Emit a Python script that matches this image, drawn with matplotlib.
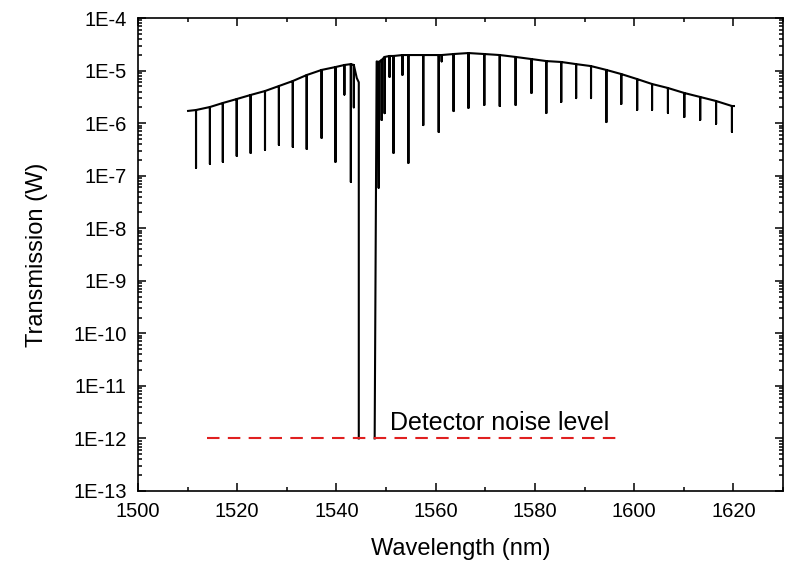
import numpy as np
import matplotlib
matplotlib.use("Agg")
import matplotlib.pyplot as plt
from matplotlib.ticker import FuncFormatter, LogLocator, MultipleLocator

plt.rcParams['font.family'] = ['Liberation Sans', 'DejaVu Sans']

# ends of the spectrum and the deep notch (nm, W); nan splits the notch walls
env_wl = [1510.1, 1544.1, 1544.5, 1544.5, 1546.0, 1547.7, 1548.1, 1620.1]
env_w = [1.71e-6, 7.2e-6, 6.0e-6, 1.0e-12, np.nan, 1.0e-12, 1.5e-5, 2.12e-6]

# absorption lines: position, level just above the line, level at the line bottom
dip_wl = [1511.7, 1514.5, 1517.1, 1519.9, 1522.7, 1525.6, 1528.4, 1531.2, 1534.0,
          1537.0, 1539.8, 1541.6, 1542.9, 1543.5,
          1548.5, 1549.1, 1549.7, 1550.7, 1551.5, 1553.3, 1554.5, 1557.5, 1560.6,
          1561.2, 1563.6, 1566.6, 1569.8, 1572.9, 1576.1, 1579.3, 1582.3, 1585.3,
          1588.3, 1591.3, 1594.4, 1597.4, 1600.6, 1603.6, 1606.8, 1610.1, 1613.3,
          1616.5, 1619.7]
dip_top = [1.78e-6, 2.03e-6, 2.42e-6, 2.88e-6, 3.44e-6, 4.09e-6, 5.09e-6, 6.34e-6, 8.24e-6,
           1.03e-5, 1.17e-5, 1.28e-5, 1.33e-5, 1.28e-5,
           1.46e-5, 1.59e-5, 1.82e-5, 1.90e-5, 1.90e-5, 1.98e-5, 1.98e-5, 1.98e-5, 1.98e-5,
           1.98e-5, 2.07e-5, 2.16e-5, 2.07e-5, 1.98e-5, 1.82e-5, 1.66e-5, 1.52e-5, 1.46e-5,
           1.33e-5, 1.22e-5, 1.03e-5, 8.6e-6, 6.9e-6, 5.56e-6, 4.67e-6, 3.75e-6, 3.15e-6,
           2.64e-6, 2.12e-6]
dip_bot = [1.41e-7, 1.67e-7, 1.83e-7, 2.38e-7, 2.71e-7, 3.09e-7, 3.85e-7, 3.53e-7, 3.23e-7,
           5.24e-7, 1.83e-7, 3.5e-6, 7.6e-8, 2.0e-6,
           5.9e-8, 1.15e-6, 1.55e-6, 7.6e-6, 2.71e-7, 8.3e-6, 1.75e-7, 9.2e-7, 6.8e-7,
           1.5e-5, 1.7e-6, 1.95e-6, 2.22e-6, 2.12e-6, 2.22e-6, 3.75e-6, 1.56e-6, 2.53e-6,
           3.0e-6, 3.0e-6, 1.05e-6, 2.32e-6, 1.78e-6, 1.78e-6, 1.56e-6, 1.31e-6, 1.15e-6,
           9.7e-7, 6.8e-7]

noise_wl = [1513.9, 1597.0]
noise_w = [1e-12, 1e-12]

# merge envelope points and line triplets into one trace
pts = [(w, 0, v) for w, v in zip(env_wl, env_w)]
for w, t, b in zip(dip_wl, dip_top, dip_bot):
    pts += [(w, 1, t), (w, 2, b), (w, 3, t)]
pts.sort(key=lambda p: (p[0], p[1]))
x = [p[0] for p in pts]
y = [p[2] for p in pts]

fig = plt.figure(figsize=(7.87, 5.65), dpi=100)
ax = fig.add_axes([0.1753, 0.131, 0.8197, 0.837])

ax.plot(x, y, color='black', lw=1.5)
ax.plot(noise_wl, noise_w, color='#e02020', lw=1.5, dashes=(6, 4))
ax.text(1550.7, 2.0e-12, "Detector noise level", fontsize=18, va='center', ha='left')

ax.set_yscale('log')
ax.set_xlim(1500, 1630)
ax.set_ylim(1e-13, 1e-4)
ax.xaxis.set_major_locator(MultipleLocator(20))
ax.xaxis.set_minor_locator(MultipleLocator(10))
ax.yaxis.set_major_locator(LogLocator(base=10, numticks=20))
ax.yaxis.set_minor_locator(LogLocator(base=10, subs=np.arange(2, 10), numticks=20))
ax.yaxis.set_major_formatter(FuncFormatter(lambda v, p: f"1E{int(round(np.log10(v)))}"))

ax.tick_params(which='both', direction='in', top=True, right=True, labelsize=14.5,
               width=1.1, pad=8)
ax.tick_params(which='major', length=6)
ax.tick_params(which='minor', length=3)
for s in ax.spines.values():
    s.set_linewidth(1.2)

ax.set_xlabel("Wavelength (nm)", fontsize=17, labelpad=12)
ax.set_ylabel("Transmission (W)", fontsize=17, labelpad=18)

fig.savefig("out.png", dpi=100)
